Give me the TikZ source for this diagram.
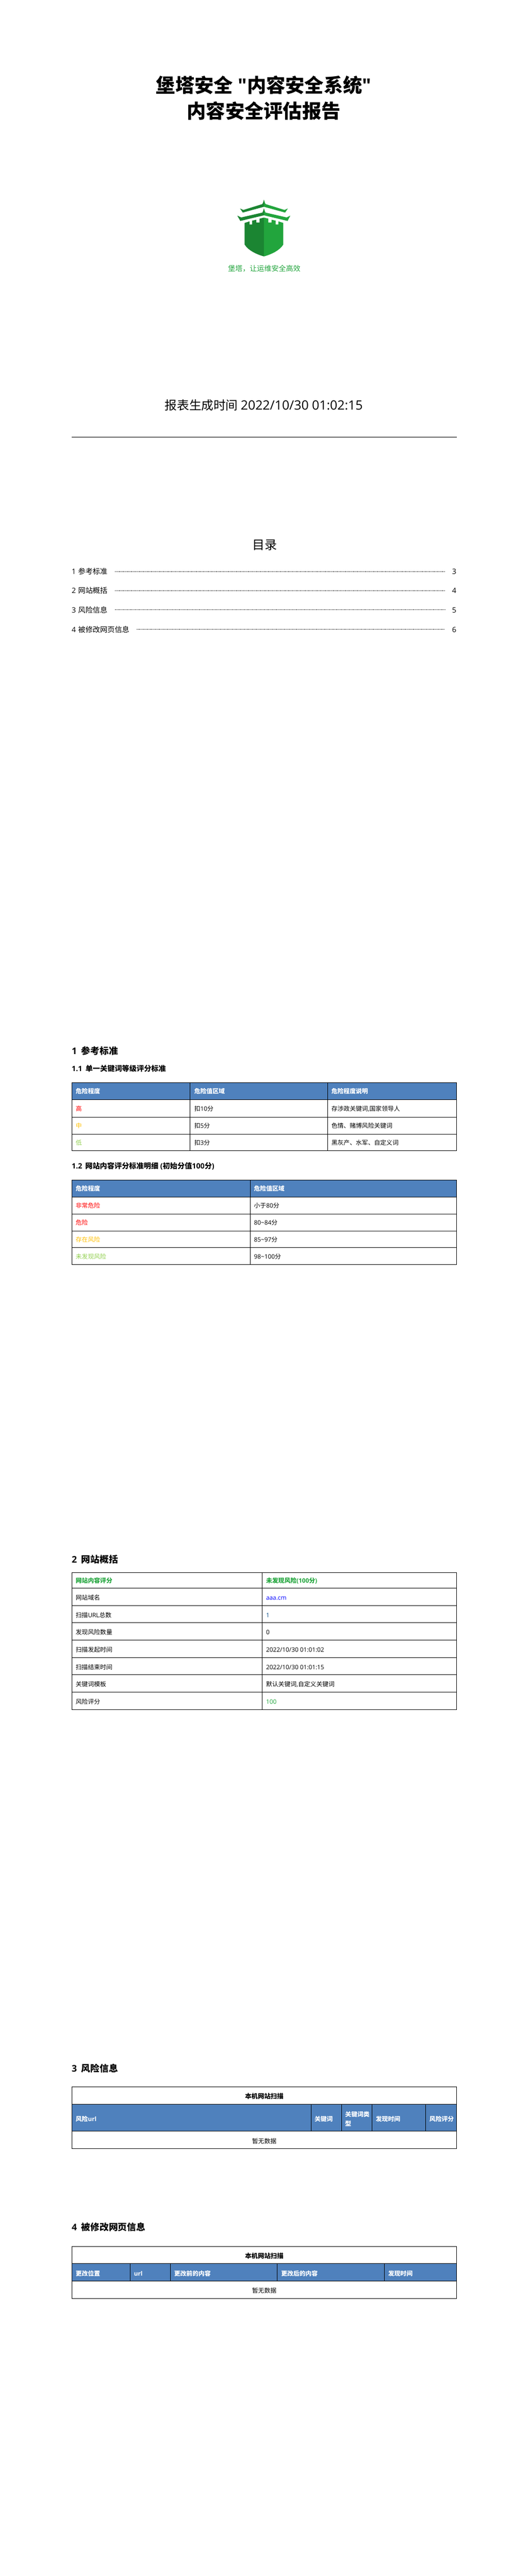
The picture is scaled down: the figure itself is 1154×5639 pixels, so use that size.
\documentclass[tikz,border=0pt]{standalone}
\usepackage{fontspec}
\setmainfont{Noto Sans CJK SC}
\newfontfamily\latf{Open Sans}
\newcommand{\La}[1]{{\latf #1}}
\definecolor{hdrblue}{HTML}{4F81BD}
\definecolor{logodark}{HTML}{1B8532}
\definecolor{logolight}{HTML}{22A53D}
\definecolor{riskred}{HTML}{FF0000}
\definecolor{riskorange}{HTML}{FFC000}
\definecolor{risklime}{HTML}{92D050}
\definecolor{valblue}{HTML}{0000FF}
\definecolor{valnavy}{HTML}{0B4F8A}
\tikzset{
  txtbase/.style={inner sep=0pt,outer sep=0pt},
  titletxt/.style={txtbase,anchor=center,font=\fontsize{42}{50}\selectfont\bfseries,text height=37pt,text depth=5pt},
  slogantxt/.style={txtbase,anchor=center,text=logolight,font=\fontsize{15.8}{19}\selectfont,text height=13.9pt,text depth=1.9pt},
  timetxt/.style={txtbase,anchor=center,font=\fontsize{26.67}{32}\selectfont,text height=23.5pt,text depth=3.2pt},
  toctitle/.style={txtbase,anchor=center,font=\fontsize{27}{32}\selectfont,text height=23.8pt,text depth=3.2pt},
  toctxt/.style={txtbase,anchor=west,font=\fontsize{16}{19}\selectfont,text height=14.1pt,text depth=1.9pt},
  tocnum/.style={toctxt,anchor=east},
  tocdots/.style={line width=1pt,dash pattern=on 1pt off 1pt,black},
  rulel/.style={line width=1pt,black},
  gridl/.style={line width=1pt,black},
  hdrfill/.style={fill=hdrblue,draw=none},
  headA/.style={txtbase,anchor=west,font=\fontsize{20}{24}\selectfont\bfseries,text height=17.6pt,text depth=2.4pt},
  headB/.style={txtbase,anchor=west,font=\fontsize{16}{19}\selectfont\bfseries,text height=14.1pt,text depth=1.9pt},
  celltxt/.style={txtbase,anchor=west,font=\fontsize{13.33}{16}\selectfont,text height=11.7pt,text depth=1.6pt},
  cellhdr/.style={celltxt,text=white,font=\fontsize{13.33}{16}\selectfont\bfseries},
  cellctr/.style={celltxt,anchor=center},
  tabcap/.style={celltxt,anchor=center,font=\fontsize{14}{17}\selectfont\bfseries,text height=12.3pt,text depth=1.7pt},
  cellbold/.style={celltxt,font=\fontsize{13.33}{16}\selectfont\bfseries},
}
\begin{document}
\begin{tikzpicture}[x=1pt,y=-1pt]
\useasboundingbox (0,0) rectangle (1154,5639);
\fill[white] (0,0) rectangle (1154,5639);
% cover
\node[titletxt] (t1) at (577,186.7) {堡塔安全\La{ "}内容安全系统\La{"}};
\node[titletxt] (t2) at (577,243) {内容安全评估报告};
\begin{scope}[shift={(515,432)},x=0.3333pt,y=-0.3333pt]
\fill[logodark] (187,133) -- (158,140) -- (158,165) -- (137,165) -- (137,147) -- (110,153) -- (110,178) -- (92,178) -- (92,158) -- (60,168) -- (60,310) .. controls (85,350) and (140,375) .. (187,388) -- cycle;
\fill[logolight] (187,133) -- (216,140) -- (216,165) -- (237,165) -- (237,147) -- (264,153) -- (264,178) -- (282,178) -- (282,158) -- (314,168) -- (314,310) .. controls (289,350) and (234,375) .. (187,388) -- cycle;
\fill[logodark] (187,15) -- (182,32) -- (177,44) -- (52,83) -- (30,73) -- (48,100) -- (187,62) -- cycle;
\fill[logolight] (187,15) -- (192,32) -- (197,44) -- (322,83) -- (344,73) -- (326,100) -- (187,62) -- cycle;
\fill[logodark] (187,72) -- (182,88) -- (177,100) -- (38,132) -- (12,120) -- (32,155) -- (187,118) -- cycle;
\fill[logolight] (187,72) -- (192,88) -- (197,100) -- (336,132) -- (360,120) -- (342,155) -- (187,118) -- cycle;
\end{scope}
\node[slogantxt] (slogan) at (578,588) {堡塔，让运维安全高效};
\node[timetxt] (time) at (577,886.5) {报表生成时间 {\fontsize{28}{32}\selectfont\La{2022/10/30 01:02:15}}};
\draw[rulel] (157,957.4) -- (999,957.4);
% toc
\node[toctitle] (toc) at (579,1192.7) {目录};
\node[toctxt] (toc1) at (157,1250.7) {\makebox[14pt][l]{\La{1}}参考标准};
\node[toctxt] (toc2) at (157,1293) {\makebox[14pt][l]{\La{2}}网站概括};
\node[toctxt] (toc3) at (157,1335) {\makebox[14pt][l]{\La{3}}风险信息};
\node[toctxt] (toc4) at (157,1378) {\makebox[14pt][l]{\La{4}}被修改网页信息};
\node[tocnum] (n1) at (998,1250.7) {\La{3}};
\node[tocnum] (n2) at (998,1293) {\La{4}};
\node[tocnum] (n3) at (998,1335) {\La{5}};
\node[tocnum] (n4) at (998,1378) {\La{6}};
\draw[tocdots] (252,1250.7) -- (973,1250.7);
\draw[tocdots] (252,1293) -- (973,1293);
\draw[tocdots] (251,1335) -- (975,1335);
\draw[tocdots] (299,1378) -- (973,1378);
% section 1
\node[headA] (h1) at (157,2300) {\makebox[21pt][l]{\La{1}}参考标准};
\node[headB] (h11) at (157,2339) {\makebox[30pt][l]{\La{1.1}}单一关键词等级评分标准};
\fill[hdrfill] (157,2370) rectangle (999,2407.3);
\draw[gridl] (157,2370) rectangle (999,2519.3);
\draw[gridl] (157,2407.3) -- (999,2407.3) (157,2445.3) -- (999,2445.3) (157,2482.3) -- (999,2482.3);
\draw[gridl] (416,2370) -- (416,2519.3) (716.5,2370) -- (716.5,2519.3);
\node[cellhdr] (a1) at (165.7,2389) {危险程度};
\node[cellhdr] (a2) at (425,2389) {危险值区域};
\node[cellhdr] (a3) at (725,2389) {危险程度说明};
\node[celltxt,text=riskred] (a4) at (165.7,2427.3) {高};
\node[celltxt] (a5) at (425,2427.3) {扣\La{10}分};
\node[celltxt] (a6) at (725,2427.3) {存涉政关键词\La{,}国家领导人};
\node[celltxt,text=riskorange] (a7) at (165.7,2464.3) {中};
\node[celltxt] (a8) at (425,2464.3) {扣\La{5}分};
\node[celltxt] (a9) at (725,2464.3) {色情、赌博风险关键词};
\node[celltxt,text=risklime] (a10) at (165.7,2501.3) {低};
\node[celltxt] (a11) at (425,2501.3) {扣\La{3}分};
\node[celltxt] (a12) at (725,2501.3) {黑灰产、水军、自定义词};
\node[headB] (h12) at (157,2552.3) {\makebox[29.5pt][l]{\La{1.2}}网站内容评分标准明细\La{ (}初始分值\La{100}分\La{)}};
\fill[hdrfill] (157,2583.3) rectangle (999,2620.3);
\draw[gridl] (157,2583.3) rectangle (999,2768.3);
\draw[gridl] (157,2620.3) -- (999,2620.3) (157,2657.3) -- (999,2657.3) (157,2694.3) -- (999,2694.3) (157,2731.3) -- (999,2731.3);
\draw[gridl] (547,2583.3) -- (547,2768.3);
\node[cellhdr] (b1) at (165.7,2602) {危险程度};
\node[cellhdr] (b2) at (555.6,2602) {危险值区域};
\node[celltxt,text=riskred] (b3) at (165.7,2639.3) {非常危险};
\node[celltxt] (b4) at (555.6,2639.3) {小于\La{80}分};
\node[celltxt,text=riskred] (b5) at (165.7,2676.3) {危险};
\node[celltxt] (b6) at (555.6,2676.3) {\La{80\textasciitilde84}分};
\node[celltxt,text=riskorange] (b7) at (165.7,2713.3) {存在风险};
\node[celltxt] (b8) at (555.6,2713.3) {\La{85\textasciitilde97}分};
\node[celltxt,text=risklime] (b9) at (165.7,2750.3) {未发现风险};
\node[celltxt] (b10) at (555.6,2750.3) {\La{98\textasciitilde100}分};
% section 2
\node[headA] (h2) at (157,3414) {\makebox[21pt][l]{\La{2}}网站概括};
\draw[gridl] (157,3442.3) rectangle (999,3742.3);
\draw[gridl] (157,3476.3) -- (999,3476.3) (157,3514.3) -- (999,3514.3) (157,3552.3) -- (999,3552.3) (157,3590.3) -- (999,3590.3) (157,3628.3) -- (999,3628.3) (157,3666.3) -- (999,3666.3) (157,3704.3) -- (999,3704.3);
\draw[gridl] (573.5,3442.3) -- (573.5,3742.3);
\node[cellbold,text=logolight] (c1) at (165.7,3460) {网站内容评分};
\node[cellbold,text=logolight] (c2) at (582,3460) {未发现风险\La{(100}分\La{)}};
\node[celltxt] (c3) at (165.7,3497.3) {网站域名};
\node[celltxt,text=valblue] (c4) at (582,3497.3) {\La{aaa.cm}};
\node[celltxt] (c5) at (165.7,3535.3) {扫描\La{URL}总数};
\node[celltxt,text=valnavy] (c6) at (582,3535.3) {\La{1}};
\node[celltxt] (c7) at (165.7,3573) {发现风险数量};
\node[celltxt] (c8) at (582,3573) {\La{0}};
\node[celltxt] (c9) at (165.7,3611) {扫描发起时间};
\node[celltxt] (c10) at (582,3611) {\La{2022/10/30 01:01:02}};
\node[celltxt] (c11) at (165.7,3649) {扫描结束时间};
\node[celltxt] (c12) at (582,3649) {\La{2022/10/30 01:01:15}};
\node[celltxt] (c13) at (165.7,3687) {关键词模板};
\node[celltxt] (c14) at (582,3687) {默认关键词\La{,}自定义关键词};
\node[celltxt] (c15) at (165.7,3725) {风险评分};
\node[celltxt,text=logolight] (c16) at (582,3725) {\La{100}};
% section 3
\node[headA] (h3) at (157,4528.3) {\makebox[21pt][l]{\La{3}}风险信息};
\fill[hdrfill] (157,4606.3) rectangle (999,4665.3);
\draw[gridl] (157,4568.3) rectangle (999,4703.3);
\draw[gridl] (157,4606.3) -- (999,4606.3) (157,4665.3) -- (999,4665.3);
\draw[gridl] (680,4606.3) -- (680,4665.3) (747,4606.3) -- (747,4665.3) (814,4606.3) -- (814,4665.3) (931,4606.3) -- (931,4665.3);
\node[tabcap] (d0) at (578,4589) {本机网站扫描};
\node[cellhdr] (d1) at (165.7,4639) {风险\La{url}};
\node[cellhdr] (d2) at (688,4639) {关键词};
\node[cellhdr] (d3) at (755,4628.3) {关键词类};
\node[cellhdr] (d3b) at (755,4649.3) {型};
\node[cellhdr] (d4) at (822,4639) {发现时间};
\node[cellhdr] (d5) at (939.4,4639) {风险评分};
\node[cellctr] (d6) at (578,4686.7) {暂无数据};
% section 4
\node[headA] (h4) at (157,4875) {\makebox[21pt][l]{\La{4}}被修改网页信息};
\fill[hdrfill] (157,4955.3) rectangle (999,4993.3);
\draw[gridl] (157,4917.3) rectangle (999,5031.3);
\draw[gridl] (157,4955.3) -- (999,4955.3) (157,4993.3) -- (999,4993.3);
\draw[gridl] (284.7,4955.3) -- (284.7,4993.3) (373,4955.3) -- (373,4993.3) (606.5,4955.3) -- (606.5,4993.3) (841,4955.3) -- (841,4993.3);
\node[tabcap] (e0) at (578,4938) {本机网站扫描};
\node[cellhdr] (e1) at (165.7,4976.7) {更改位置};
\node[cellhdr] (e2) at (293,4976.7) {\La{url}};
\node[cellhdr] (e3) at (381,4976.7) {更改前的内容};
\node[cellhdr] (e4) at (615,4976.7) {更改后的内容};
\node[cellhdr] (e5) at (849,4976.7) {发现时间};
\node[cellctr] (e6) at (578,5014.3) {暂无数据};
\end{tikzpicture}
\end{document}
